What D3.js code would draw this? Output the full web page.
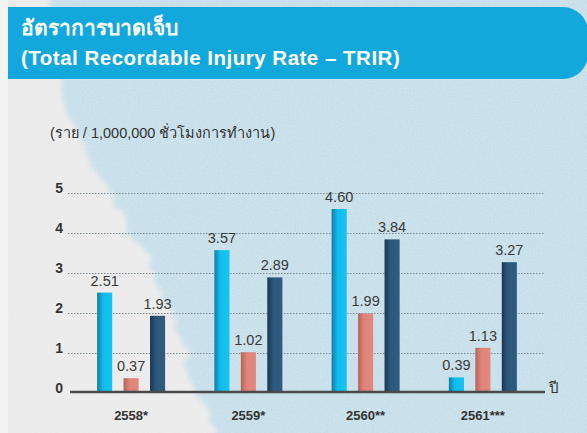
<!DOCTYPE html>
<html>
<head>
<meta charset="utf-8">
<script src="https://cdn.jsdelivr.net/npm/d3@7"></script>
<style>
  html, body { margin: 0; padding: 0; background: #f4f4f4; }
  svg { display: block; font-family: "Liberation Sans", Arial, "Noto Sans", sans-serif; }
</style>
</head>
<body>
<div id="chart"></div>
<script>
// data
var years = ["2558*", "2559*", "2560**", "2561***"];
var seriesA = [2.51, 3.57, 4.60, 0.39];   // cyan
var seriesB = [0.37, 1.02, 1.99, 1.13];   // salmon
var seriesC = [1.93, 2.89, 3.84, 3.27];   // navy
var yTicks = [0, 1, 2, 3, 4, 5];

function init(){
    var w = 587;
    var h = 433;

    var svg = d3.select("#chart")
                .append("svg")
                .attr("width", w)
                .attr("height", h);

    var defs = svg.append("defs");

    // rough watercolor edge
    var rough = defs.append("filter").attr("id", "rough")
        .attr("x", "-10%").attr("y", "-10%").attr("width", "120%").attr("height", "120%");
    rough.append("feTurbulence").attr("type", "fractalNoise")
        .attr("baseFrequency", 0.04).attr("numOctaves", 4).attr("seed", 3).attr("result", "n");
    rough.append("feDisplacementMap").attr("in", "SourceGraphic").attr("in2", "n")
        .attr("scale", 26).attr("xChannelSelector", "R").attr("yChannelSelector", "G")
        .attr("result", "d");
    rough.append("feGaussianBlur").attr("in", "d").attr("stdDeviation", 2.5);

    // speckle texture
    var speck = defs.append("filter").attr("id", "speck");
    speck.append("feTurbulence").attr("type", "fractalNoise")
        .attr("baseFrequency", 0.6).attr("numOctaves", 2).attr("seed", 7);
    speck.append("feColorMatrix").attr("type", "matrix")
        .attr("values", "0 0 0 0 1  0 0 0 0 1  0 0 0 0 1  0 0 0 -1.6 1.0");

    function grad(id, c1, c2, c3){
        var g = defs.append("linearGradient").attr("id", id)
            .attr("x1", "0").attr("x2", "1").attr("y1", "0").attr("y2", "0");
        g.append("stop").attr("offset", "0").attr("stop-color", c1);
        g.append("stop").attr("offset", "0.4").attr("stop-color", c2);
        g.append("stop").attr("offset", "1").attr("stop-color", c3);
    }
    grad("gA", "#0b7ea6", "#12bdec", "#15c3f2");
    grad("gB", "#b56558", "#e0847a", "#e2887c");
    grad("gC", "#1b3550", "#2d587c", "#2f5b80");

    // background
    defs.append("clipPath").attr("id", "panelClip")
        .append("rect").attr("x", 8).attr("y", 0).attr("width", w - 8).attr("height", h);
    svg.append("rect").attr("x", 8).attr("y", 0).attr("width", w - 8).attr("height", h)
        .attr("fill", "#ebebeb");

    var blue = svg.append("g").attr("clip-path", "url(#panelClip)");
    var cloud = [[50,-20],[620,-20],[620,460],[225,460],[205,415],[192,375],[180,335],
                 [165,295],[150,262],[130,230],[112,200],[95,170],[78,135],[64,100],[55,60]];
    blue.append("path")
        .attr("d", d3.line()(cloud) + "Z")
        .attr("fill", "#c7dfea")
        .attr("filter", "url(#rough)");
    blue.append("rect").attr("x", 8).attr("y", 0).attr("width", w).attr("height", h)
        .attr("filter", "url(#speck)").attr("opacity", 0.22);

    // title banner
    svg.append("rect").attr("x", 8).attr("y", 7).attr("width", w - 8 + 1).attr("height", 72)
        .attr("rx", 25).attr("fill", "#13a8dc");
    svg.append("rect").attr("x", 8).attr("y", 7).attr("width", 60).attr("height", 72)
        .attr("fill", "#13a8dc");
    svg.append("text").attr("x", 21).attr("y", 35)
        .attr("fill", "#fff").attr("font-size", 21).attr("font-weight", "bold")
        .text("อัตราการบาดเจ็บ");
    svg.append("text").attr("x", 21).attr("y", 65)
        .attr("fill", "#fff").attr("font-size", 20.5).attr("font-weight", "bold")
        .attr("letter-spacing", 0.5)
        .text("(Total Recordable Injury Rate – TRIR)");

    // unit label
    svg.append("text").attr("x", 50).attr("y", 138)
        .attr("fill", "#333").attr("font-size", 14.5)
        .text("(ราย / 1,000,000 ชั่วโมงการทำงาน)");

    // scales
    var y = d3.scaleLinear().domain([0, 5]).range([393, 193]);
    var x0 = d3.scaleBand().domain(years).range([72.5, 541.5]);
    var x1 = d3.scaleBand().domain([0, 1, 2])
        .range([x0.bandwidth() / 2 - 34, x0.bandwidth() / 2 + 34])
        .paddingInner(0.43);

    // grid
    svg.append("g").selectAll("line")
        .data(yTicks.filter(function(d){ return d > 0; }))
        .enter().append("line")
        .attr("x1", 68).attr("x2", 545)
        .attr("y1", function(d){ return y(d) + 0.5; })
        .attr("y2", function(d){ return y(d) + 0.5; })
        .attr("stroke", "#7d8a92").attr("stroke-width", 1)
        .attr("stroke-dasharray", "1.5,1.5");

    // y tick labels
    svg.append("g").selectAll("text")
        .data(yTicks)
        .enter().append("text")
        .attr("x", 63).attr("y", function(d){ return y(d); })
        .attr("text-anchor", "end")
        .attr("font-size", 14).attr("font-weight", "bold").attr("fill", "#333")
        .text(function(d){ return d; });

    // bars
    var rows = years.map(function(yr, i){
        return { year: yr, vals: [seriesA[i], seriesB[i], seriesC[i]] };
    });
    var fills = ["url(#gA)", "url(#gB)", "url(#gC)"];

    var groups = svg.append("g").selectAll("g")
        .data(rows).enter().append("g")
        .attr("transform", function(d){ return "translate(" + x0(d.year) + ",0)"; });

    var cells = groups.selectAll("g")
        .data(function(d){ return d.vals.map(function(v, k){ return { k: k, v: v }; }); })
        .enter().append("g");

    cells.append("rect")
        .attr("x", function(d){ return x1(d.k); })
        .attr("y", function(d){ return y(d.v); })
        .attr("width", x1.bandwidth())
        .attr("height", function(d){ return y(0) - y(d.v); })
        .attr("fill", function(d){ return fills[d.k]; });

    cells.append("text")
        .attr("x", function(d){ return x1(d.k) + x1.bandwidth() / 2; })
        .attr("y", function(d){ return y(d.v) - 7; })
        .attr("text-anchor", "middle")
        .attr("font-size", 14.5).attr("fill", "#3a3a3a")
        .text(function(d){ return d.v.toFixed(2); });

    // baseline axis
    svg.append("line").attr("x1", 70).attr("x2", 545)
        .attr("y1", y(0) - 1).attr("y2", y(0) - 1)
        .attr("stroke", "#4a4a4a").attr("stroke-width", 2.5);
    svg.append("text").attr("x", 549).attr("y", y(0))
        .attr("font-size", 15).attr("fill", "#333")
        .text("ปี");

    // year labels
    svg.append("g").selectAll("text")
        .data(years).enter().append("text")
        .attr("x", function(d){ return x0(d) + x0.bandwidth() / 2; })
        .attr("y", 420)
        .attr("text-anchor", "middle")
        .attr("font-size", 13).attr("font-weight", "bold").attr("fill", "#333")
        .text(function(d){ return d; });
}
window.onload = init;
</script>
</body>
</html>
